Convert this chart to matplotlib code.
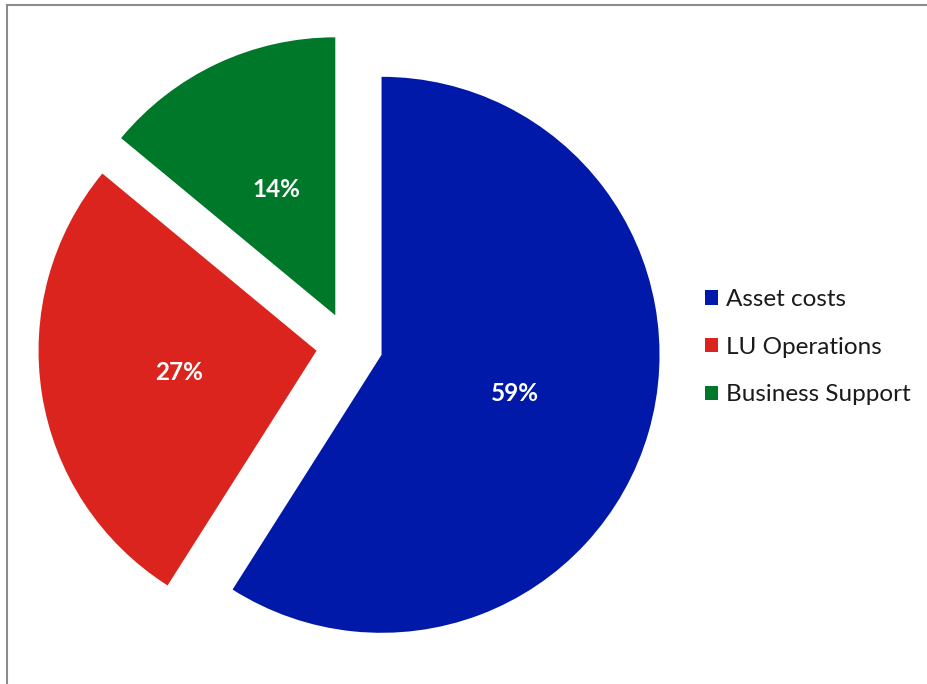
import matplotlib
matplotlib.use("Agg")
import matplotlib.pyplot as plt
from matplotlib.lines import Line2D

categories = ["Asset costs", "LU Operations", "Business Support"]
values = [59, 27, 14]
colors = ["#0019A8", "#DC241F", "#00782A"]

W, H = 927, 684
fig = plt.figure(figsize=(W / 100, H / 100), dpi=100)
fig.patch.set_facecolor("white")

cx, cy, r = 349.5, H - 345.5, 278.0
ax = fig.add_axes([0, 0, 1, 1])
wedges, texts, autotexts = ax.pie(
    values,
    colors=colors,
    startangle=90,
    counterclock=False,
    explode=[0.12] * 3,
    pctdistance=0.5,
    autopct=lambda p: f"{p:.0f}%",
    textprops=dict(color="white", fontsize=17.5, fontweight="bold", family="Lato"),
)
ax.set_xlim(-cx / r, (W - cx) / r)
ax.set_ylim(-cy / r, (H - cy) / r)
ax.set_aspect("auto")
ax.axis("off")

leg = ax.legend(
    wedges, categories,
    loc="upper left",
    bbox_to_anchor=(705 / W, 1 - 289 / H),
    bbox_transform=fig.transFigure,
    frameon=False,
    borderpad=0, borderaxespad=0,
    handlelength=0.54, handleheight=0.54,
    handletextpad=0.33,
    labelspacing=1.1,
    prop=dict(family="Lato", size=17.5),
)
for t in leg.get_texts():
    t.set_color("#1a1a1a")

fig.add_artist(Line2D([7 / W, 1], [1 - 5 / H, 1 - 5 / H], transform=fig.transFigure,
                      color="#8c8c8c", linewidth=1.5))
fig.add_artist(Line2D([7 / W, 7 / W], [0, 1 - 5 / H], transform=fig.transFigure,
                      color="#8c8c8c", linewidth=1.5))

fig.savefig("out.png", dpi=100, facecolor="white")
